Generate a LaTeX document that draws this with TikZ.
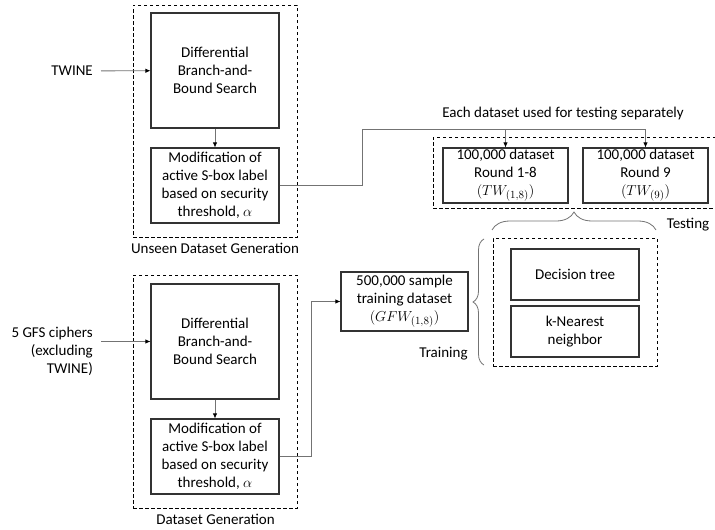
\documentclass[tikz,border=0pt]{standalone}
\usepackage{fontspec}
\setmainfont{Carlito}
\usetikzlibrary{positioning, shapes, arrows.meta, decorations.pathreplacing}

\begin{document}
\begin{tikzpicture}[x=1pt,y=-1pt]
\tikzstyle{every node}=[font=\fontsize{15}{18}\selectfont, text=black];
\tikzstyle{block}=[draw=black!80, line width=1.1pt, align=center, inner sep=0pt];
\tikzstyle{group}=[draw=black, dash pattern=on 3.5pt off 2.5pt, line width=0.8pt, inner sep=0pt];
\tikzstyle{line}=[draw=black!55, line width=0.8pt];
\tikzstyle{link}=[line, -{Latex[length=5pt,width=4.5pt,black]}];
\tikzstyle{brk}=[draw=black!55, line width=0.8pt, decorate];
\useasboundingbox (0,0) rectangle (715,530);

% unseen dataset (TWINE)
\path (215,121) node[group, minimum width=164pt, minimum height=232pt] (unseen) {};
\path (215,70.5) node[block, minimum width=128pt, minimum height=115pt] (dbb1) {Differential\\Branch-and-\\Bound Search};
\path (215,185.5) node[block, minimum width=128pt, minimum height=75pt] (mod1) {Modification of\\active S-box label\\based on security\\threshold, $\alpha$};
\path (215,248) node (unseenlbl) {Unseen Dataset Generation};
\path (101,71) node[anchor=east, inner xsep=8pt] (twine) {TWINE};

% training dataset (5 GFS)
\path (215,391.5) node[group, minimum width=164pt, minimum height=233pt] (gen) {};
\path (215,341.5) node[block, minimum width=128pt, minimum height=115pt] (dbb2) {Differential\\Branch-and-\\Bound Search};
\path (215,456.5) node[block, minimum width=128pt, minimum height=75pt] (mod2) {Modification of\\active S-box label\\based on security\\threshold, $\alpha$};
\path (215.5,519) node (genlbl) {Dataset Generation};
\path (101,351) node[anchor=east, inner xsep=8pt, align=right] (gfs) {5 GFS ciphers\\(excluding\\TWINE)};

% testing sets
\path (574.5,172.5) node[group, minimum width=283pt, minimum height=71pt] (testing) {};
\path (505.5,175.5) node[block, minimum width=125pt, minimum height=55pt] (tw18) {100,000 dataset\\Round 1-8\\$(TW_{(1,8)})$};
\path (645.5,175.5) node[block, minimum width=125pt, minimum height=55pt] (tw9) {100,000 dataset\\Round 9\\$(TW_{(9)})$};
\path (563,114) node (eachlbl) {Each dataset used for testing separately};
\path (688,225) node (testlbl) {Testing};

% models
\path (404.5,301.5) node[block, minimum width=127pt, minimum height=59pt] (train) {500,000 sample\\training dataset\\$(GFW_{(1,8)})$};
\path (575,302) node[group, minimum width=164pt, minimum height=128pt] (ml) {};
\path (575,274.5) node[block, minimum width=128pt, minimum height=51pt] (dt) {Decision tree};
\path (575,331.5) node[block, minimum width=128pt, minimum height=51pt] (knn) {k-Nearest\\neighbor};
\path (443.5,354) node (trainlbl) {Training};

% connectors
\coordinate (split) at (362,129);
\coordinate (bend) at (311,301.5);
\draw [link] (twine) -- (dbb1);
\draw [link] (dbb1) -- (mod1);
\draw [line] (mod1.east) -| (split);
\draw [link] (split) -| (tw18.north);
\draw [link] (split) -| (tw9.north);
\draw [link] (gfs.east |- dbb2.west) -- (dbb2.west);
\draw [link] (dbb2) -- (mod2);
\draw [link] (mod2.east) -| (bend) -- (train.west);

% braces
\coordinate (tb1) at (492,230);
\coordinate (tb2) at (656,230);
\coordinate (rb1) at (484,365);
\coordinate (rb2) at (484,239);
\draw [brk, decoration={brace, amplitude=18pt}] (tb1) -- (tb2);
\draw [brk, decoration={brace, amplitude=11pt}] (rb1) -- (rb2);
\end{tikzpicture}
\end{document}
